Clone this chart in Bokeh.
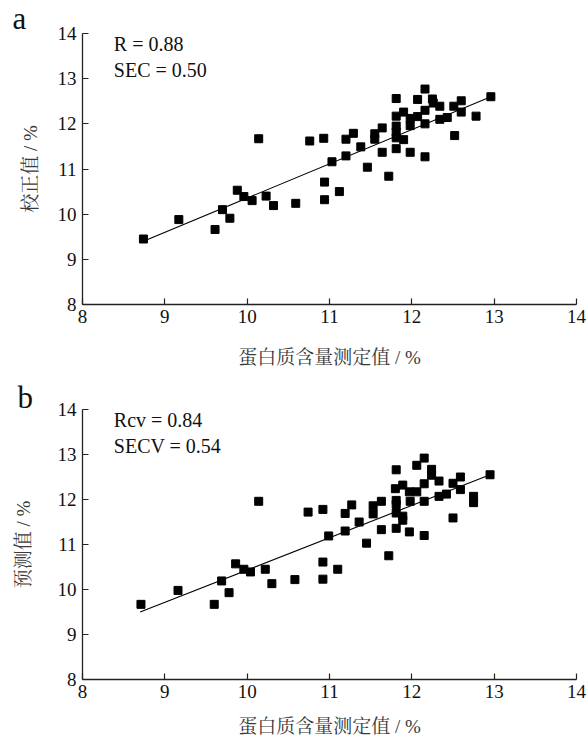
from bokeh.plotting import figure
from bokeh.layouts import column
from bokeh.models import Label, FixedTicker
from bokeh.embed import file_html
from bokeh.resources import INLINE

# ---------------- data ----------------
ticks = [8, 9, 10, 11, 12, 13, 14]

# panel a: calibration
x_a = [8.74, 9.17, 9.61, 9.70, 9.79, 9.88, 9.96, 10.06, 10.14, 10.23, 10.32, 10.59,
       10.76, 10.93, 10.94, 10.94, 11.03, 11.12, 11.20, 11.20, 11.29, 11.38, 11.46,
       11.55, 11.55, 11.64, 11.64, 11.72, 11.81, 11.81, 11.81, 11.81, 11.81, 11.81,
       11.90, 11.90, 11.98, 11.98, 11.98, 12.07, 12.07, 12.16, 12.16, 12.16, 12.16,
       12.25, 12.26, 12.34, 12.34, 12.43, 12.51, 12.52, 12.60, 12.60, 12.78, 12.96]
y_a = [9.45, 9.88, 9.66, 10.10, 9.91, 10.53, 10.39, 10.30, 11.67, 10.40, 10.19, 10.24,
       11.62, 11.68, 10.71, 10.32, 11.16, 10.50, 11.66, 11.29, 11.79, 11.49, 11.04,
       11.78, 11.66, 11.91, 11.37, 10.84, 12.56, 12.17, 11.95, 11.82, 11.69, 11.45,
       12.26, 11.65, 12.12, 11.96, 11.37, 12.54, 12.16, 12.77, 12.30, 12.00, 11.27,
       12.55, 12.46, 12.39, 12.10, 12.14, 12.39, 11.74, 12.51, 12.26, 12.17, 12.60]
fit_x_a = [8.74, 12.96]
fit_y_a = [9.40, 12.60]
stats_a = ["R = 0.88", "SEC = 0.50"]

# panel b: cross validation
x_b = [8.71, 9.16, 9.60, 9.69, 9.78, 9.86, 9.96, 10.04, 10.14, 10.22, 10.30, 10.58,
       10.74, 10.92, 10.92, 10.92, 10.99, 11.10, 11.19, 11.19, 11.27, 11.36, 11.45,
       11.53, 11.53, 11.63, 11.63, 11.72, 11.81, 11.80, 11.81, 11.81, 11.81, 11.81,
       11.89, 11.89, 11.89, 11.97, 11.98, 11.97, 12.06, 12.06, 12.15, 12.15, 12.15,
       12.15, 12.24, 12.24, 12.33, 12.33, 12.42, 12.50, 12.50, 12.59, 12.59, 12.75,
       12.75, 12.95]
y_b = [9.67, 9.98, 9.67, 10.19, 9.93, 10.57, 10.45, 10.39, 11.96, 10.45, 10.13, 10.22,
       11.72, 11.78, 10.61, 10.23, 11.19, 10.45, 11.69, 11.30, 11.88, 11.50, 11.03,
       11.86, 11.68, 11.96, 11.33, 10.75, 12.66, 12.24, 11.98, 11.89, 11.70, 11.36,
       12.32, 11.63, 11.54, 12.17, 11.96, 11.28, 12.17, 12.76, 12.92, 12.35, 11.96,
       11.20, 12.67, 12.54, 12.41, 12.07, 12.12, 12.36, 11.59, 12.50, 12.22, 12.07,
       11.93, 12.55]
fit_x_b = [8.70, 12.95]
fit_y_b = [9.50, 12.55]
stats_b = ["Rcv = 0.84", "SECV = 0.54"]

x_label = "蛋白质含量测定值 / %"
y_label_a = "校正值 / %"
y_label_b = "预测值 / %"

SERIF = "Liberation Serif"
SERIF_CJK = "Liberation Serif, Noto Serif CJK SC, Noto Sans CJK SC"


def make_panel(xs, ys, fx, fy, stats, ylab, letter, height, top, bottom,
               ylab_standoff, xlab_standoff, letter_offset, letter_standoff):
    p = figure(width=588, height=height, x_range=(8, 14), y_range=(8, 14),
               output_backend="svg", toolbar_location=None,
               min_border_left=82, min_border_right=12,
               min_border_top=top, min_border_bottom=bottom,
               background_fill_color="white", border_fill_color="white",
               outline_line_color=None)
    p.grid.visible = False
    for ax in (p.xaxis, p.yaxis):
        ax.ticker = FixedTicker(ticks=ticks)
        ax.major_tick_in = 6
        ax.major_tick_out = 0
        ax.minor_tick_line_color = None
        ax.axis_line_color = "#222222"
        ax.axis_line_width = 1.3
        ax.major_tick_line_color = "#222222"
        ax.major_tick_line_width = 1.2
        ax.major_label_text_font = SERIF
        ax.major_label_text_font_size = "19px"
        ax.major_label_text_color = "#111111"
        ax.axis_label_text_font = SERIF_CJK
        ax.axis_label_text_font_size = "19px"
        ax.axis_label_text_font_style = "normal"
        ax.axis_label_text_color = "#3a3a3a"
    p.xaxis.axis_label = x_label
    p.yaxis.axis_label = ylab
    p.xaxis.major_label_standoff = 5
    p.yaxis.major_label_standoff = 6
    p.xaxis.axis_label_standoff = xlab_standoff
    p.yaxis.axis_label_standoff = ylab_standoff

    # panel letter as the figure title
    p.title.text = letter
    p.title.align = "left"
    p.title.offset = letter_offset
    p.title.standoff = letter_standoff
    p.title.text_font = SERIF
    p.title.text_font_size = "31px"
    p.title.text_font_style = "normal"
    p.title.text_color = "#111111"

    p.line(fx, fy, line_color="black", line_width=1.1)
    p.scatter(xs, ys, marker="square", size=8, fill_color="black", line_color="black")

    for t, yy in zip(stats, [13.77, 13.19]):
        p.add_layout(Label(x=8.38, y=yy, text=t, text_font=SERIF,
                           text_font_size="20px", text_baseline="middle",
                           text_align="left", text_color="#111111"))
    return p


pa = make_panel(x_a, y_a, fit_x_a, fit_y_a, stats_a, y_label_a, "a",
                height=375, top=33, bottom=71, ylab_standoff=14, xlab_standoff=21,
                letter_offset=-70, letter_standoff=-4)
pb = make_panel(x_b, y_b, fit_x_b, fit_y_b, stats_b, y_label_b, "b",
                height=367, top=34, bottom=63, ylab_standoff=21, xlab_standoff=15,
                letter_offset=-65, letter_standoff=-11)

layout = column(pa, pb, spacing=0)
open("out.html", "w").write(file_html(layout, INLINE))
